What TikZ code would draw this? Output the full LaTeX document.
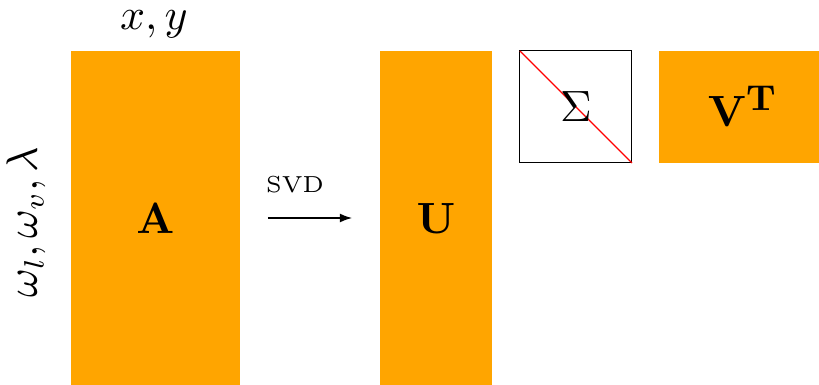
\documentclass[tikz,border=0pt]{standalone}
\usetikzlibrary{arrows.meta}
\definecolor{blockorange}{RGB}{255,165,0}
\begin{document}
\begin{tikzpicture}[x=0.25pt,y=-0.25pt,
  block/.style={rectangle,fill=blockorange,inner sep=0pt,outer sep=0pt},
  sigmabox/.style={rectangle,draw=black,line width=0.25pt,inner sep=0pt,outer sep=0pt},
  biglabel/.style={font=\fontsize{10.5}{12}\selectfont,inner sep=0pt},
  smalllabel/.style={font=\fontsize{5.8}{7}\selectfont,inner sep=0pt}]
  \useasboundingbox (0,0) rectangle (819,385);

  % factor blocks
  \node[block,minimum width=42.25pt,minimum height=83.5pt] (A) at (155.5,218) {};
  \node[block,minimum width=28pt,minimum height=83.5pt] (U) at (436,218) {};
  \node[sigmabox,minimum width=28pt,minimum height=28pt] (S) at (576,107) {};
  \node[block,minimum width=39.875pt,minimum height=28pt] (V) at (739.25,107) {};

  % diagonal of the singular-value matrix
  \draw[red,line width=0.35pt] (S.north west) -- (S.south east);

  % block labels
  \node[biglabel] (Alab) at (A) {$\mathbf{A}$};
  \node[biglabel] (Ulab) at (U) {$\mathbf{U}$};
  \node[biglabel] (Slab) at (S) {$\Sigma$};
  \node[biglabel] (Vlab) at (743,106) {$\mathbf{V}^{\mbox{\fontsize{9}{10}\selectfont\bfseries T}}$};

  % axis labels of A
  \node[biglabel] (cols) at (154,24) {$x,y$};
  \node[biglabel,rotate=90] (rows) at (26,222) {$\omega_l,\omega_v,\lambda$};

  % decomposition arrow
  \draw[-{Latex[length=3pt,width=2.2pt]},line width=0.3pt,shorten <=7pt,shorten >=7pt] (A.east) -- (U.west);
  \node[smalllabel] (svd) at (295,185) {SVD};
\end{tikzpicture}
\end{document}
